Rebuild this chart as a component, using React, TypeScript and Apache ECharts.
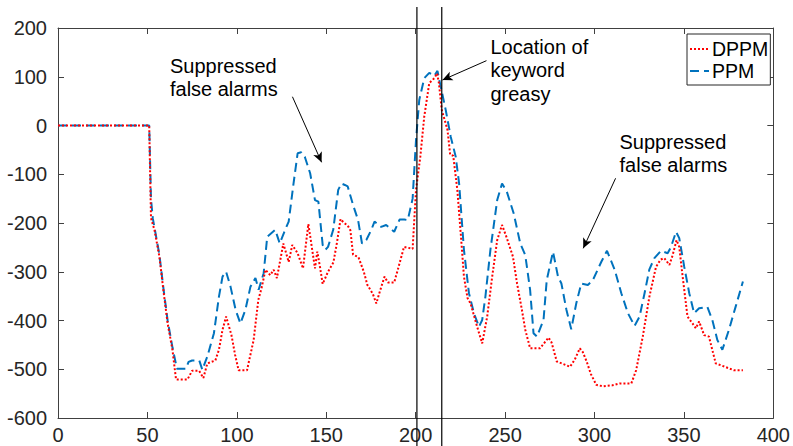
import React, { useEffect, useRef } from "react";
import * as echarts from "echarts";

const FONT = "'Liberation Sans', Arial, Helvetica, sans-serif";

// X ticks / Y ticks
const xTicks = { min: 0, max: 400, interval: 50 };
const yTicks = { min: -600, max: 200, interval: 100 };

// DPPM (red dotted)
const dppmX = [0, 51, 52, 54, 56.7, 59, 61.3, 64, 66, 72.4, 75, 78.9, 81.3, 83.5, 88, 90, 92, 94, 97, 99, 101, 105.7, 109.4, 112, 114, 116, 118.7, 120.6, 122.4, 124.3, 126, 129, 131, 134, 137, 140, 143.7, 145, 146.5, 148, 151, 154, 156, 158, 160, 162, 163.5, 165, 168, 171, 173, 176, 178, 180, 182.6, 184.5, 188, 190, 193.5, 198.3, 200.2, 202.6, 204.8, 207.6, 210.4, 212, 213, 214.6, 217.8, 219.3, 221, 223.3, 225.2, 227, 229, 230.7, 234.4, 237.2, 240, 242.8, 245.6, 248.3, 251, 254.4, 256.7, 259.4, 261.3, 264, 269.6, 274.3, 276, 278.9, 286.3, 289, 291.8, 293.5, 295.6, 298, 301, 304.8, 310, 314, 320.6, 323.3, 327, 330.7, 334.4, 337, 339, 341.9, 343.7, 345.9, 347.4, 349.3, 352, 354.8, 356.7, 358.5, 361.3, 364, 367.8, 373, 377.9, 383];
const dppmY = [0, 0, -190, -215, -269, -340, -406, -460, -521, -521, -503, -503, -518, -488, -482, -460, -419, -392, -430, -470, -502, -502, -440, -358, -331, -296, -307, -296, -313, -276, -242, -280, -245, -262, -293, -202, -293, -259, -290, -325, -300, -281, -240, -192, -200, -205, -215, -265, -270, -300, -327, -345, -365, -340, -310, -322, -322, -296, -249, -253, -132, -64, 18, 87, 97, 107, 87, 32, -9, -60, -62, -132, -221, -310, -354, -365, -413, -447, -392, -310, -235, -204, -231, -269, -324, -378, -419, -457, -457, -435, -445, -484, -495, -480, -457, -465, -484, -510, -532, -535, -533, -529, -529, -502, -433, -351, -290, -275, -272, -286, -266, -235, -249, -310, -392, -406, -416, -402, -430, -433, -488, -495, -502, -502];

// PPM (blue dashed)
const ppmX = [0, 51, 52, 53, 56.7, 59, 61.3, 64, 66.5, 71.5, 73, 75, 79, 80.7, 83.5, 87.2, 90, 92, 94, 96.5, 99.3, 102, 104.8, 107.6, 110.4, 112.2, 115, 117, 121.5, 124, 127, 129, 131.7, 134, 136, 138, 141, 143.7, 145.6, 148, 149.5, 151, 153.9, 156.7, 158.5, 160.4, 162, 165, 167.8, 170, 172.4, 175.2, 177, 180.7, 183.5, 188, 191, 193.7, 195.6, 198.3, 200.2, 202, 204.8, 207.6, 210.4, 212.2, 214, 216.8, 219.6, 222.4, 224.3, 227, 229.8, 232.6, 235.4, 237.2, 239, 241.8, 245.6, 248.3, 251, 254.8, 258.5, 261.3, 264, 265.9, 267.8, 271.5, 273.3, 276.8, 279.6, 281.5, 284.3, 287, 289.8, 292.6, 296.3, 299.1, 303.9, 307, 311.3, 315, 318.7, 322.4, 325.2, 328, 330.7, 333.5, 337.2, 340.9, 342.8, 345.6, 347.4, 350.2, 353, 355.7, 358.5, 363.1, 365.9, 368.7, 371.5, 375.2, 378.9, 383];
const ppmY = [0, 0, -150, -190, -265, -335, -400, -455, -499, -499, -485, -482, -482, -501, -474, -426, -351, -310, -300, -331, -378, -406, -378, -331, -313, -337, -303, -228, -214, -242, -214, -197, -119, -57, -55, -64, -98, -153, -156, -245, -255, -249, -214, -132, -119, -122, -125, -163, -194, -242, -235, -214, -197, -208, -204, -218, -193, -193, -194, -150, -30, 52, 97, 108, 102, 112, 80, 32, -23, -64, -119, -255, -344, -385, -413, -399, -351, -255, -153, -119, -136, -180, -242, -266, -337, -426, -433, -399, -317, -259, -310, -324, -378, -418, -365, -324, -327, -317, -279, -257, -296, -344, -385, -411, -392, -344, -295, -272, -257, -262, -249, -218, -231, -290, -344, -385, -375, -372, -399, -440, -460, -419, -372, -320];

// Keyword location markers (x values)
const keywordLines = [200.7, 214.6];

// Annotation texts and their anchors (data coords of the text's top-left)
const annotationTexts = ["Suppressed\nfalse alarms", "Location of\nkeyword\ngreasy", "Suppressed\nfalse alarms"];
const annotationAnchorX = [62.6, 241.8, 314];
const annotationAnchorY = [146.7, 185.6, -9.2];

// Arrows: start/end in data coords
const arrowStartX = [131.1, 239.6, 311.8];
const arrowStartY = [59, 133, -108.3];
const arrowEndX = [147.4, 215, 293.7];
const arrowEndY = [-75.5, 93.3, -252];

const zip = (xs: number[], ys: number[]) => xs.map((x, i) => [x, ys[i]]);

export default function App() {
  const ref = useRef<HTMLDivElement>(null);
  useEffect(() => {
    if (!ref.current) return;
    const chart = echarts.init(ref.current, undefined, { renderer: "svg" });
    const axisColor = "#404040";
    const baseX = {
      type: "value" as const,
      min: xTicks.min,
      max: xTicks.max,
      interval: xTicks.interval,
      axisLine: { show: true, onZero: false, lineStyle: { color: axisColor, width: 1 } },
      axisTick: { show: true, inside: true, length: 6, lineStyle: { color: axisColor } },
      splitLine: { show: false },
    };
    const baseY = {
      type: "value" as const,
      min: yTicks.min,
      max: yTicks.max,
      interval: yTicks.interval,
      axisLine: { show: true, onZero: false, lineStyle: { color: axisColor, width: 1 } },
      axisTick: { show: true, inside: true, length: 6, lineStyle: { color: axisColor } },
      splitLine: { show: false },
    };
    const labelStyle = { fontSize: 20, color: "#262626", fontFamily: FONT };
    chart.setOption({
      animation: false,
      grid: { left: 58, right: 15, top: 28, bottom: 28 },
      xAxis: [
        { ...baseX, position: "bottom", axisLabel: { ...labelStyle, margin: 7 } },
        { ...baseX, position: "top", axisLabel: { show: false } },
      ],
      yAxis: [
        { ...baseY, position: "left", axisLabel: { ...labelStyle, margin: 11 } },
        { ...baseY, position: "right", axisLabel: { show: false } },
      ],
      legend: {
        data: ["DPPM", "PPM"],
        orient: "vertical",
        left: 687,
        top: 34,
        itemWidth: 19,
        itemHeight: 12,
        itemGap: 2,
        padding: [5, 2, 4, 2],
        borderColor: "#262626",
        borderWidth: 1,
        borderRadius: 0,
        backgroundColor: "#fff",
        itemStyle: { color: "transparent", borderWidth: 0, opacity: 0 },
        textStyle: { fontSize: 19.5, color: "#000", fontFamily: FONT, padding: [0, 0, 0, -2] },
      },
      series: [
        {
          name: "DPPM",
          type: "line",
          data: zip(dppmX, dppmY),
          symbol: "none",
          lineStyle: { color: "#ff0000", width: 2, type: [2, 2] },
          itemStyle: { color: "#ff0000" },
          z: 3,
        },
        {
          name: "PPM",
          type: "line",
          data: zip(ppmX, ppmY),
          symbol: "none",
          lineStyle: { color: "#0072BD", width: 2, type: [9, 5] },
          itemStyle: { color: "#0072BD" },
          z: 2,
        },
        {
          name: "arrows",
          type: "line",
          data: [],
          silent: true,
          markLine: {
            silent: true,
            symbol: ["none", "arrow"],
            symbolSize: [7, 10],
            label: { show: false },
            lineStyle: { color: "#000", width: 1, type: "solid" },
            emphasis: { disabled: true },
            data: arrowStartX.map((sx, i) => [
              { coord: [sx, arrowStartY[i]] },
              { coord: [arrowEndX[i], arrowEndY[i]] },
            ]),
          },
        },
      ],
    });

    const gx = (v: number) => chart.convertToPixel({ xAxisIndex: 0 }, v) as number;
    const gy = (v: number) => chart.convertToPixel({ yAxisIndex: 0 }, v) as number;
    const H = chart.getHeight();
    const graphics: any[] = [];
    keywordLines.forEach((v) => {
      const px = gx(v);
      graphics.push({
        type: "line",
        shape: { x1: px, y1: gy(243), x2: px, y2: H },
        style: { stroke: "#000", lineWidth: 1.2 },
        z: 10,
      });
    });
    annotationTexts.forEach((t, i) => {
      graphics.push({
        type: "text",
        x: gx(annotationAnchorX[i]),
        y: gy(annotationAnchorY[i]),
        style: {
          text: t,
          fontSize: 20,
          fontFamily: FONT,
          fill: "#000",
          lineHeight: 23.5,
          textAlign: "left",
          textVerticalAlign: "top",
        },
        z: 10,
      });
    });
    chart.setOption({ graphic: graphics });

    return () => chart.dispose();
  }, []);
  return (
    <div
      ref={ref}
      style={{ position: "fixed", left: 0, top: 0, width: 793, height: 446, background: "#fff" }}
    />
  );
}
